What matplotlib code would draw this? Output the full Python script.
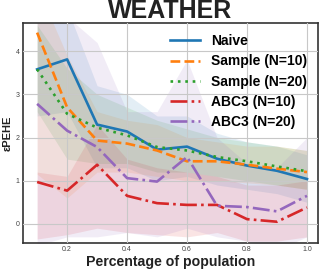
import matplotlib
matplotlib.use("Agg")
import matplotlib.pyplot as plt

plt.rcParams['font.family'] = ['Liberation Sans', 'DejaVu Sans']

x = [0.1, 0.2, 0.3, 0.4, 0.5, 0.6, 0.7, 0.8, 0.9, 1.0]

naive = [3.58, 3.81, 2.30, 2.14, 1.72, 1.79, 1.51, 1.35, 1.23, 1.04]
naive_lo = [2.5, 2.6, 1.3, 1.3, 1.0, 1.1, 0.9, 0.8, 0.7, 0.5]
naive_hi = [4.8, 5.0, 3.2, 3.0, 2.5, 2.5, 2.1, 1.9, 1.8, 1.6]

sample10 = [4.43, 2.70, 1.93, 1.86, 1.70, 1.45, 1.45, 1.37, 1.28, 1.20]
sample10_lo = [1.15, 0.6, 1.2, 1.2, 1.1, 1.0, 1.0, 0.95, 0.9, 0.8]
sample10_hi = [5.5, 3.9, 2.6, 2.4, 2.3, 2.0, 1.9, 1.8, 1.8, 1.7]

sample20 = [3.58, 2.55, 2.23, 2.05, 1.78, 1.70, 1.55, 1.45, 1.33, 1.22]
sample20_lo = [2.6, 1.5, 1.4, 1.4, 1.2, 1.2, 1.1, 1.0, 0.9, 0.8]
sample20_hi = [4.6, 3.6, 3.0, 2.7, 2.4, 2.2, 2.0, 1.9, 1.8, 1.7]

abc10 = [0.97, 0.77, 1.37, 0.65, 0.48, 0.44, 0.44, 0.11, 0.05, 0.38]
abc10_lo = [-0.35, -0.25, -0.1, -0.2, -0.25, -0.3, -0.2, -0.4, -0.4, -0.3]
abc10_hi = [1.2, 1.1, 2.3, 1.5, 1.3, 1.2, 1.1, 0.9, 0.9, 1.0]

abc20 = [2.78, 2.16, 1.78, 1.06, 0.98, 1.55, 0.42, 0.39, 0.29, 0.65]
abc20_lo = [-0.5, -0.3, -0.3, -0.2, -0.3, -0.1, -0.3, -0.4, -0.6, -0.3]
abc20_hi = [4.8, 4.8, 4.2, 2.6, 2.6, 3.8, 2.0, 1.4, 1.3, 2.0]

series = [
    ("Naive", naive, naive_lo, naive_hi, "#1f77b4", "-"),
    ("Sample (N=10)", sample10, sample10_lo, sample10_hi, "#ff7f0e", "--"),
    ("Sample (N=20)", sample20, sample20_lo, sample20_hi, "#2ca02c", (0, (1, 1.8))),
    ("ABC3 (N=10)", abc10, abc10_lo, abc10_hi, "#d62728", "-."),
    ("ABC3 (N=20)", abc20, abc20_lo, abc20_hi, "#9467bd", "-."),
]

fig = plt.figure(figsize=(3.2, 2.72), dpi=100)
ax = fig.add_axes([0.072, 0.107, 0.922, 0.808])

for label, y, lo, hi, c, ls in series:
    ax.fill_between(x, lo, hi, color=c, alpha=0.12, linewidth=0, zorder=1)
for label, y, lo, hi, c, ls in series:
    ax.plot(x, y, color=c, linestyle=ls, linewidth=1.9, label=label, zorder=3)

ax.set_xlim(0.053, 1.037)
ax.set_ylim(-0.44, 4.65)
ax.set_xticks([0.2, 0.4, 0.6, 0.8, 1.0])
ax.set_yticks([0, 1, 2, 3, 4])
ax.grid(True, color="#c8c8c8", linewidth=0.8, zorder=2)
ax.set_axisbelow(False)
ax.tick_params(length=0, labelsize=5, labelcolor="#444444", pad=2.5)
for s in ax.spines.values():
    s.set_color("#333333")
    s.set_linewidth(1.2)

ax.set_title("WEATHER", fontsize=18, fontweight="bold", color="#222222", pad=1)
ax.set_xlabel("Percentage of population", fontsize=10.2, fontweight="bold", color="#222222", labelpad=1)
ax.set_ylabel("εPEHE", fontsize=8, fontweight="bold", color="#222222", labelpad=2)

ax.legend(loc="upper right", frameon=False, handlelength=2.15,
          labelspacing=0.45, borderaxespad=0.4, handletextpad=0.8,
          prop={"weight": "bold", "size": 10})

fig.savefig("out.png", dpi=100)
